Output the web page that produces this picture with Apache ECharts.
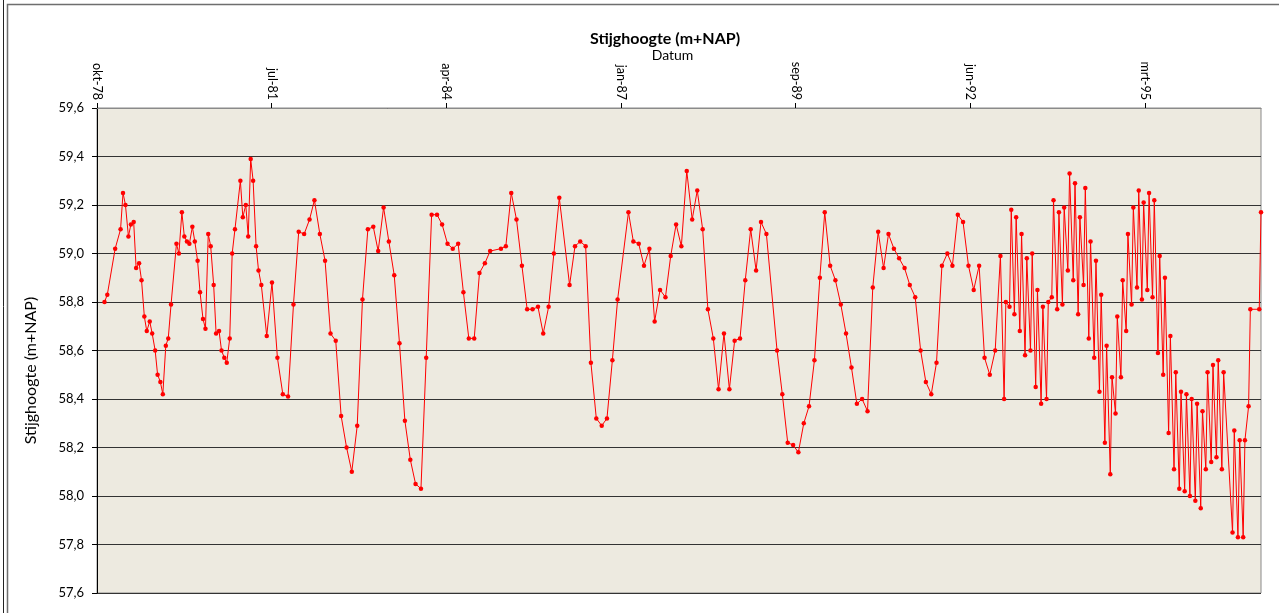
<!DOCTYPE html>
<html>
<head>
<meta charset="utf-8">
<title>Stijghoogte (m+NAP)</title>
<script src="https://cdn.jsdelivr.net/npm/echarts@6/dist/echarts.min.js"></script>
<style>
  html, body { margin: 0; padding: 0; background: #fff; }
  #chart { width: 1279px; height: 613px; }
</style>
</head>
<body>
<div id="chart"></div>
<script>
'use strict';

// measuring dates (stijghoogte in m+NAP)
var dates = [
    '1978-11-28', '1978-12-14',
    '1979-01-28', '1979-02-28', '1979-03-14', '1979-03-28', '1979-04-14', '1979-04-28', '1979-05-14', '1979-05-28',
    '1979-06-14', '1979-06-28', '1979-07-14', '1979-07-28', '1979-08-14', '1979-08-28', '1979-09-14', '1979-09-28',
    '1979-10-14', '1979-10-28', '1979-11-14', '1979-11-28', '1979-12-14',
    '1980-01-14', '1980-01-28', '1980-02-14', '1980-02-28', '1980-03-14', '1980-03-28', '1980-04-14', '1980-04-28',
    '1980-05-14', '1980-05-28', '1980-06-14', '1980-06-28', '1980-07-14', '1980-07-28', '1980-08-14', '1980-08-28',
    '1980-09-14', '1980-09-28', '1980-10-14', '1980-10-28', '1980-11-14', '1980-11-28', '1980-12-14',
    '1981-01-14', '1981-01-28', '1981-02-14', '1981-02-28', '1981-03-14', '1981-03-28', '1981-04-14', '1981-04-28',
    '1981-05-14', '1981-06-14', '1981-07-14', '1981-08-14', '1981-09-14', '1981-10-14', '1981-11-14', '1981-12-14',
    '1982-01-14', '1982-02-14', '1982-03-14', '1982-04-14', '1982-05-14', '1982-06-14', '1982-07-14', '1982-08-14',
    '1982-09-14', '1982-10-14', '1982-11-14', '1982-12-14',
    '1983-01-14', '1983-02-14', '1983-03-14', '1983-04-14', '1983-05-14', '1983-06-14', '1983-07-14', '1983-08-14',
    '1983-09-14', '1983-10-14', '1983-11-14', '1983-12-14',
    '1984-01-14', '1984-02-14', '1984-03-14', '1984-04-14', '1984-05-14', '1984-06-14', '1984-07-14', '1984-08-14',
    '1984-09-14', '1984-10-14', '1984-11-14', '1984-12-14',
    '1985-02-14', '1985-03-14', '1985-04-14', '1985-05-14', '1985-06-14', '1985-07-14', '1985-08-14', '1985-09-14',
    '1985-10-14', '1985-11-14', '1985-12-14',
    '1986-01-14', '1986-03-14', '1986-04-14', '1986-05-14', '1986-06-14', '1986-07-14', '1986-08-14', '1986-09-14',
    '1986-10-14', '1986-11-14', '1986-12-14',
    '1987-02-14', '1987-03-14', '1987-04-14', '1987-05-14', '1987-06-14', '1987-07-14', '1987-08-14', '1987-09-14',
    '1987-10-14', '1987-11-14', '1987-12-14',
    '1988-01-14', '1988-02-14', '1988-03-14', '1988-04-14', '1988-05-14', '1988-06-14', '1988-07-14', '1988-08-14',
    '1988-09-14', '1988-10-14', '1988-11-14', '1988-12-14',
    '1989-01-14', '1989-02-14', '1989-03-14', '1989-04-14', '1989-06-14', '1989-07-14', '1989-08-14', '1989-09-14',
    '1989-10-14', '1989-11-14', '1989-12-14',
    '1990-01-14', '1990-02-14', '1990-03-14', '1990-04-14', '1990-05-14', '1990-06-14', '1990-07-14', '1990-08-14',
    '1990-09-14', '1990-10-14', '1990-11-14', '1990-12-14',
    '1991-01-14', '1991-02-14', '1991-03-14', '1991-04-14', '1991-05-14', '1991-06-14', '1991-07-14', '1991-08-14',
    '1991-09-14', '1991-10-14', '1991-11-14', '1991-12-14',
    '1992-01-14', '1992-02-14', '1992-03-14', '1992-04-14', '1992-05-14', '1992-06-14', '1992-07-14', '1992-08-14',
    '1992-09-14', '1992-10-14', '1992-11-14', '1992-12-14',
    '1993-01-04', '1993-01-14', '1993-02-04', '1993-02-14', '1993-03-04', '1993-03-14', '1993-04-04', '1993-04-14',
    '1993-05-04', '1993-05-14', '1993-06-04', '1993-06-14', '1993-07-04', '1993-07-14', '1993-08-04', '1993-08-14',
    '1993-09-04', '1993-09-14', '1993-10-04', '1993-10-14', '1993-11-04', '1993-11-14', '1993-12-04', '1993-12-14',
    '1994-01-04', '1994-01-14', '1994-02-04', '1994-02-14', '1994-03-04', '1994-03-14', '1994-04-04', '1994-04-14',
    '1994-05-04', '1994-05-14', '1994-06-04', '1994-06-14', '1994-07-04', '1994-07-14', '1994-08-04', '1994-08-14',
    '1994-09-04', '1994-09-14', '1994-10-04', '1994-10-14', '1994-11-04', '1994-11-14', '1994-12-04', '1994-12-14',
    '1995-01-04', '1995-01-14', '1995-02-04', '1995-02-14', '1995-03-04', '1995-03-14', '1995-04-04', '1995-04-14',
    '1995-05-04', '1995-05-14', '1995-06-04', '1995-06-14', '1995-07-04', '1995-07-14', '1995-08-04', '1995-08-14',
    '1995-09-04', '1995-09-14', '1995-10-04', '1995-10-14', '1995-11-04', '1995-11-14', '1995-12-04', '1995-12-14',
    '1996-01-04', '1996-01-14', '1996-02-04', '1996-02-14', '1996-03-04', '1996-03-14', '1996-04-04', '1996-04-14',
    '1996-05-04', '1996-05-14', '1996-06-04', '1996-06-14',
    '1996-08-04', '1996-08-14', '1996-09-04', '1996-09-14', '1996-10-04', '1996-10-14', '1996-11-04', '1996-11-14',
    '1997-01-04', '1997-01-14'
];

var levels = [
    58.80, 58.83,
    59.02, 59.10, 59.25, 59.20, 59.07, 59.12, 59.13, 58.94,
    58.96, 58.89, 58.74, 58.68, 58.72, 58.67, 58.60, 58.50,
    58.47, 58.42, 58.62, 58.65, 58.79,
    59.04, 59.00, 59.17, 59.07, 59.05, 59.04, 59.11, 59.05,
    58.97, 58.84, 58.73, 58.69, 59.08, 59.03, 58.87, 58.67,
    58.68, 58.60, 58.57, 58.55, 58.65, 59.00, 59.10,
    59.30, 59.15, 59.20, 59.07, 59.39, 59.30, 59.03, 58.93,
    58.87, 58.66, 58.88, 58.57, 58.42, 58.41, 58.79, 59.09,
    59.08, 59.14, 59.22, 59.08, 58.97, 58.67, 58.64, 58.33,
    58.20, 58.10, 58.29, 58.81,
    59.10, 59.11, 59.01, 59.19, 59.05, 58.91, 58.63, 58.31,
    58.15, 58.05, 58.03, 58.57,
    59.16, 59.16, 59.12, 59.04, 59.02, 59.04, 58.84, 58.65,
    58.65, 58.92, 58.96, 59.01,
    59.02, 59.03, 59.25, 59.14, 58.95, 58.77, 58.77, 58.78,
    58.67, 58.78, 59.00,
    59.23, 58.87, 59.03, 59.05, 59.03, 58.55, 58.32, 58.29,
    58.32, 58.56, 58.81,
    59.17, 59.05, 59.04, 58.95, 59.02, 58.72, 58.85, 58.82,
    58.99, 59.12, 59.03,
    59.34, 59.14, 59.26, 59.10, 58.77, 58.65, 58.44, 58.67,
    58.44, 58.64, 58.65, 58.89,
    59.10, 58.93, 59.13, 59.08, 58.60, 58.42, 58.22, 58.21,
    58.18, 58.30, 58.37,
    58.56, 58.90, 59.17, 58.95, 58.89, 58.79, 58.67, 58.53,
    58.38, 58.40, 58.35, 58.86,
    59.09, 58.94, 59.08, 59.02, 58.98, 58.94, 58.87, 58.82,
    58.60, 58.47, 58.42, 58.55,
    58.95, 59.00, 58.95, 59.16, 59.13, 58.95, 58.85, 58.95,
    58.57, 58.50, 58.60, 58.99,
    58.40, 58.80, 58.78, 59.18, 58.75, 59.15, 58.68, 59.08,
    58.58, 58.98, 58.60, 59.00, 58.45, 58.85, 58.38, 58.78,
    58.40, 58.80, 58.82, 59.22, 58.77, 59.17, 58.79, 59.19,
    58.93, 59.33, 58.89, 59.29, 58.75, 59.15, 58.87, 59.27,
    58.65, 59.05, 58.57, 58.97, 58.43, 58.83, 58.22, 58.62,
    58.09, 58.49, 58.34, 58.74, 58.49, 58.89, 58.68, 59.08,
    58.79, 59.19, 58.86, 59.26, 58.81, 59.21, 58.85, 59.25,
    58.82, 59.22, 58.59, 58.99, 58.50, 58.90, 58.26, 58.66,
    58.11, 58.51, 58.03, 58.43, 58.02, 58.42, 58.00, 58.40,
    57.98, 58.38, 57.95, 58.35, 58.11, 58.51, 58.14, 58.54,
    58.16, 58.56, 58.11, 58.51,
    57.85, 58.27, 57.83, 58.23, 57.83, 58.23, 58.37, 58.77,
    58.77, 59.17
];

// date axis: first tick at axisStart, then every tickStepDays days
var axisStart = '1978-10-16';
var axisEnd = '1997-01-14';
var tickStepDays = 1000;
var tickLabels = ['okt-78', 'jul-81', 'apr-84', 'jan-87', 'sep-89', 'jun-92', 'mrt-95'];

var yMin = 57.6;
var yMax = 59.6;
var yStep = 0.2;

// days elapsed since axisStart
function dayOffset(dateStr) {
    var dayMs = 24 * 3600 * 1000;
    var p = dateStr.split('-');
    var s = axisStart.split('-');
    var t = Date.UTC(+p[0], +p[1] - 1, +p[2]);
    var t0 = Date.UTC(+s[0], +s[1] - 1, +s[2]);
    return Math.round((t - t0) / dayMs);
}

function renderChart(chartDivId) {
    var chart = echarts.init(document.getElementById(chartDivId), null, { renderer: 'canvas' });
    var font = 'Lato, "Noto Sans", sans-serif';

    var data = [];
    for (var i = 0; i < dates.length; i++) {
        data.push([dayOffset(dates[i]), levels[i]]);
    }

    var options = {
        animation: false,
        backgroundColor: '#ffffff',
        title: {
            text: 'Stijghoogte (m+NAP)',
            left: 660,
            top: 26,
            textAlign: 'center',
            textStyle: {
                fontFamily: font,
                fontSize: 16,
                fontWeight: 'bold',
                color: '#000'
            }
        },
        grid: {
            left: 97,
            right: 18,
            top: 108,
            bottom: 20,
            show: true,
            backgroundColor: '#edeae0',
            borderColor: '#8a8a8a',
            borderWidth: 1
        },
        xAxis: {
            type: 'value',
            position: 'top',
            min: 0,
            max: dayOffset(axisEnd),
            interval: tickStepDays,
            name: 'Datum',
            nameLocation: 'middle',
            nameGap: 46,
            nameMoveOverlap: false,
            nameTextStyle: {
                fontFamily: font,
                fontSize: 14,
                color: '#000',
                padding: [0, 13, 0, 0]
            },
            axisLine: { show: true, lineStyle: { color: '#8a8a8a', width: 1 } },
            axisTick: {
                show: true,
                length: 5,
                lineStyle: { color: '#000' }
            },
            axisLabel: {
                show: true,
                rotate: 90,
                margin: 8,
                showMaxLabel: false,
                fontFamily: font,
                fontSize: 12.5,
                color: '#000',
                formatter: function (value) {
                    var idx = Math.round(value / tickStepDays);
                    if (value % tickStepDays !== 0 || idx >= tickLabels.length) {
                        return '';
                    }
                    return tickLabels[idx];
                }
            },
            splitLine: { show: false }
        },
        yAxis: {
            type: 'value',
            min: yMin,
            max: yMax,
            interval: yStep,
            name: 'Stijghoogte (m+NAP)',
            nameLocation: 'middle',
            nameGap: 58,
            nameMoveOverlap: false,
            nameTextStyle: {
                fontFamily: font,
                fontSize: 16,
                color: '#000',
                padding: [0, 40, 0, 0]
            },
            axisLine: { show: true, lineStyle: { color: '#000', width: 1 } },
            axisTick: { show: true, length: 5, lineStyle: { color: '#000' } },
            axisLabel: {
                margin: 13,
                fontFamily: font,
                fontSize: 13,
                color: '#000',
                formatter: function (value) {
                    return value.toFixed(1).replace('.', ',');
                }
            },
            splitLine: { show: true, lineStyle: { color: '#333', width: 1 } }
        },
        graphic: [
            {
                type: 'line',
                silent: true,
                shape: { x1: 3.5, y1: 0, x2: 3.5, y2: 613 },
                style: { stroke: '#222', lineWidth: 1 }
            },
            {
                type: 'rect',
                silent: true,
                shape: { x: 7.5, y: 4.5, width: 1400, height: 700 },
                style: { fill: null, stroke: '#6e6e6e', lineWidth: 1.5 }
            }
        ],
        series: [
            {
                name: 'Stijghoogte',
                type: 'line',
                data: data,
                symbol: 'circle',
                symbolSize: 4.5,
                showAllSymbol: true,
                lineStyle: { color: '#ff0000', width: 1 },
                itemStyle: { color: '#ff0000' }
            }
        ]
    };

    chart.setOption(options);
    window.onresize = function () {
        chart.resize();
    };
}

renderChart('chart');
</script>
</body>
</html>
